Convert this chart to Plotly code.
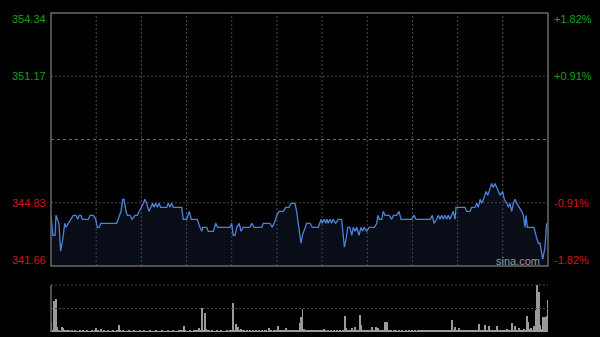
import plotly.graph_objects as go

# ---------------- data ----------------
prev_close = 348.0
y_min, y_max = 341.66, 354.34
left_labels = ["354.34", "351.17", "344.83", "341.66"]
left_values = [354.34, 351.17, 344.83, 341.66]
right_labels = ["+1.82%", "+0.91%", "-0.91%", "-1.82%"]

# minute offsets from the open (0..330) and prices
minutes = [
    0, 1.3, 2.7, 3.3, 4.3, 5.3, 6.4, 7.8, 9.1, 10,
    11.5, 13.1, 14.8, 16.6, 17.7, 18.8, 19.9, 20.8, 24.8, 25.9,
    28.1, 29.7, 30.7, 32.1, 33, 43.6, 45.4, 46.5, 47.6, 48.5,
    49.8, 50.7, 52.5, 53.8, 55.8, 57.3, 58.6, 60.2, 61.3, 62.4,
    63.5, 65.1, 66.2, 67.5, 68.4, 69.5, 70.6, 71.7, 72.8, 76.8,
    77.9, 79, 80.1, 81.2, 86.8, 87.8, 90.1, 91.8, 93.2, 97.1,
    98.9, 100.1, 100.7, 103.4, 104.4, 107.8, 109.4, 110.7, 118.9, 120,
    121, 122.2, 123.3, 125, 126.2, 127.5, 132.1, 133.3, 134.8, 139.9,
    141, 145.4, 146.9, 148.3, 149.2, 149.9, 151.4, 154.2, 155.8, 158,
    159.4, 160.9, 162, 163.1, 164.7, 166, 166.9, 168.7, 169.8, 172,
    173.5, 177.5, 178.6, 179.3, 180.1, 181.5, 182.4, 183.3, 184.1, 185.3,
    186.4, 187.4, 189, 190.8, 193, 193.7, 194.8, 195.9, 197, 198.5,
    199.7, 200.7, 201.9, 203, 204.5, 205.8, 207, 208, 209.6, 211.2,
    212.5, 214.7, 216.3, 217, 218, 219.6, 220.6, 221.8, 224.6, 226.2,
    227.3, 229.5, 231.1, 232.4, 239.5, 241, 242.4, 251.7, 253.2, 254.3,
    256.1, 257.2, 258.3, 259.4, 260.5, 261.6, 262.7, 263.8, 264.9, 266.1,
    267.1, 268.3, 268.9, 270.4, 274.9, 276, 278.2, 279.3, 281.5, 282.7,
    283.7, 284.9, 286, 287.1, 288.9, 290, 291.5, 292.6, 293.7, 294.8,
    296, 297, 298.2, 299.9, 301, 302.6, 303.7, 304.8, 305.9, 307,
    308.1, 309.3, 311, 312.6, 313.6, 314.8, 315.4, 316.3, 317.6, 320.7,
    322, 323.6, 324.7, 326.5, 328, 329.1,
]
prices = [
    344.2, 343.2, 343.2, 344.2, 344.0, 343.8, 342.4, 343.0, 343.8, 343.6,
    343.8, 344.0, 344.2, 344.2, 344.0, 344.2, 344.2, 344.0, 344.0, 344.2,
    344.2, 344.0, 343.6, 343.6, 343.8, 343.8, 344.2, 344.4, 345.0, 345.0,
    344.4, 344.2, 344.2, 344.0, 344.2, 344.2, 344.4, 344.6, 344.8, 345.0,
    344.8, 344.4, 344.6, 344.8, 344.6, 344.8, 344.6, 344.8, 344.6, 344.6,
    344.8, 344.6, 344.8, 344.6, 344.6, 344.0, 344.0, 344.4, 344.0, 344.0,
    343.6, 343.4, 343.6, 343.6, 343.4, 343.4, 343.8, 343.6, 343.6, 343.8,
    343.2, 343.2, 343.6, 343.8, 343.4, 343.6, 343.6, 343.8, 343.6, 343.6,
    343.8, 343.8, 343.6, 343.8, 344.0, 344.2, 344.4, 344.4, 344.6, 344.6,
    344.8, 344.8, 344.8, 344.4, 343.6, 342.8, 343.2, 343.6, 343.8, 343.8,
    343.6, 343.6, 343.8, 344.0, 343.8, 344.0, 343.8, 344.0, 343.8, 344.0,
    343.8, 344.0, 343.8, 344.0, 344.0, 343.4, 342.6, 343.0, 343.6, 343.6,
    343.2, 343.6, 343.4, 343.6, 343.2, 343.6, 343.4, 343.6, 343.4, 343.6,
    343.6, 343.6, 343.8, 344.2, 344.0, 344.0, 344.4, 344.2, 344.2, 344.0,
    344.2, 344.2, 344.4, 344.0, 344.0, 344.2, 344.0, 344.0, 344.2, 343.8,
    344.0, 344.2, 344.0, 344.2, 344.0, 344.2, 344.0, 344.2, 344.0, 344.2,
    344.4, 344.0, 344.6, 344.6, 344.6, 344.4, 344.4, 344.6, 344.6, 344.8,
    344.6, 345.0, 344.8, 345.0, 345.4, 345.2, 345.6, 345.8, 345.6, 345.8,
    345.6, 345.4, 345.2, 345.4, 345.0, 344.8, 344.6, 344.8, 344.4, 344.8,
    345.0, 344.8, 344.6, 344.4, 344.2, 343.6, 344.2, 343.6, 343.6, 343.6,
    343.2, 342.8, 342.8, 342.0, 342.6, 343.8,
]
assert len(minutes) == len(prices)

# per-minute volume (arbitrary units, 0..330)
volume = [
    19, 4, 65, 70, 10, 3, 2, 10, 8, 3,
    5, 3, 5, 2, 3, 2, 3, 2, 2, 3,
    2, 3, 2, 2, 3, 2, 2, 3, 2, 4,
    8, 3, 2, 6, 2, 3, 2, 2, 3, 2,
    2, 3, 2, 2, 4, 14, 3, 2, 3, 2,
    2, 2, 3, 2, 2, 3, 2, 2, 2, 3,
    2, 2, 3, 2, 2, 2, 3, 2, 2, 2,
    3, 2, 2, 2, 3, 2, 2, 2, 3, 2,
    2, 3, 2, 2, 2, 3, 4, 3, 12, 3,
    2, 2, 3, 2, 2, 3, 4, 3, 8, 5,
    51, 4, 40, 6, 3, 5, 2, 3, 2, 2,
    3, 2, 2, 3, 2, 2, 2, 3, 2, 4,
    3, 62, 5, 18, 10, 5, 6, 3, 4, 2,
    3, 2, 4, 2, 3, 2, 3, 2, 4, 2,
    3, 2, 4, 3, 2, 8, 3, 2, 4, 3,
    4, 12, 3, 5, 4, 3, 8, 3, 5, 4,
    3, 4, 3, 4, 5, 20, 32, 48, 6, 4,
    3, 5, 3, 4, 3, 5, 4, 3, 3, 4,
    3, 6, 3, 2, 3, 2, 3, 2, 3, 2,
    3, 2, 3, 2, 3, 35, 8, 4, 3, 5,
    8, 4, 10, 3, 4, 37, 15, 4, 3, 4,
    3, 5, 4, 10, 3, 4, 10, 8, 3, 4,
    3, 4, 22, 22, 3, 4, 3, 2, 5, 3,
    2, 3, 2, 3, 2, 2, 3, 2, 3, 2,
    3, 2, 3, 2, 3, 4, 3, 4, 3, 4,
    4, 3, 4, 5, 3, 4, 3, 5, 4, 3,
    4, 5, 3, 4, 5, 3, 25, 4, 10, 5,
    4, 8, 4, 3, 5, 4, 3, 5, 4, 3,
    5, 4, 3, 4, 18, 4, 5, 3, 15, 4,
    5, 12, 4, 3, 5, 4, 12, 3, 5, 4,
    3, 5, 4, 6, 4, 5, 20, 4, 12, 5,
    4, 8, 5, 4, 6, 5, 33, 22, 6, 8,
    5, 12, 46, 100, 86, 15, 6, 32, 32, 33,
    68,
]
vol_minutes = list(range(len(volume)))
vol_max = 100

# ---------------- figure ----------------
W, H = 600, 337
x0p, x1p = 51 / W, 548 / W
main_dom = [1 - 266 / H, 1 - 13 / H]
vol_dom = [1 - 332 / H, 1 - 285 / H]

GREEN = "#14a014"
RED = "#d01818"
FONT = "Liberation Sans, Arial, sans-serif"

fig = go.Figure()
fig.add_trace(go.Scatter(
    x=minutes, y=prices, mode="lines",
    line=dict(color="#4d82d8", width=1.3),
    fill="tozeroy", fillcolor="rgba(40,60,110,0.22)",
    hoverinfo="skip", showlegend=False, xaxis="x", yaxis="y",
))
fig.add_trace(go.Bar(
    x=vol_minutes, y=volume, width=0.65,
    marker=dict(color="#9a9a9a", line=dict(width=0)),
    hoverinfo="skip", showlegend=False, xaxis="x", yaxis="y2",
))

shapes = []
grid = dict(color="#4a4a4a", width=1, dash="2px,2px")
# vertical gridlines every 30 minutes
for m in range(30, 330, 30):
    shapes.append(dict(type="line", xref="x", yref="y", x0=m, x1=m,
                       y0=y_min, y1=y_max, line=grid, layer="below"))
# horizontal gridlines
for v in [351.17, 344.83]:
    shapes.append(dict(type="line", xref="x", yref="y", x0=0, x1=330,
                       y0=v, y1=v, line=grid, layer="below"))
shapes.append(dict(type="line", xref="x", yref="y", x0=0, x1=330,
                   y0=prev_close, y1=prev_close,
                   line=dict(color="#6a6a6a", width=1, dash="3px,3px"), layer="below"))
# main frame
shapes.append(dict(type="rect", xref="paper", yref="paper",
                   x0=x0p, x1=x1p, y0=main_dom[0], y1=main_dom[1],
                   line=dict(color="#6a6a6a", width=1.5)))
# volume panel lines
shapes.append(dict(type="line", xref="paper", yref="paper",
                   x0=x0p, x1=x1p, y0=vol_dom[1], y1=vol_dom[1], line=grid))
shapes.append(dict(type="line", xref="paper", yref="y2",
                   x0=x0p, x1=x1p, y0=vol_max / 2, y1=vol_max / 2, line=grid))
shapes.append(dict(type="line", xref="paper", yref="paper",
                   x0=x0p, x1=x0p, y0=vol_dom[0], y1=vol_dom[1],
                   line=dict(color="#6a6a6a", width=1.5)))

annotations = []
shifts = [-6, 0, 0, 6]
for lab, rlab, v, s in zip(left_labels, right_labels, left_values, shifts):
    col = GREEN if v > prev_close else RED
    annotations.append(dict(xref="paper", yref="y", x=x0p, y=v, yshift=s,
                            xshift=-3, xanchor="right", yanchor="middle",
                            text=lab, showarrow=False,
                            font=dict(family=FONT, size=11, color=col)))
    annotations.append(dict(xref="paper", yref="y", x=x1p, y=v, yshift=s,
                            xshift=4, xanchor="left", yanchor="middle",
                            text=rlab, showarrow=False,
                            font=dict(family=FONT, size=11, color=col)))
annotations.append(dict(xref="paper", yref="paper", x=518 / W, y=1 - 261 / H,
                        xanchor="center", yanchor="middle", text="sina.com",
                        showarrow=False,
                        font=dict(family=FONT, size=11, color="#9a9a9a")))

fig.update_layout(
    width=W, height=H, margin=dict(l=0, r=0, t=0, b=0),
    paper_bgcolor="#000000", plot_bgcolor="#000000",
    xaxis=dict(domain=[x0p, x1p], range=[0, 330], visible=False, fixedrange=True),
    yaxis=dict(domain=main_dom, range=[y_min, y_max], visible=False, fixedrange=True),
    yaxis2=dict(domain=vol_dom, range=[0, vol_max], visible=False, fixedrange=True,
                anchor="x"),
    shapes=shapes, annotations=annotations, bargap=0,
)

fig.write_html("out.html", config={"displayModeBar": False})
